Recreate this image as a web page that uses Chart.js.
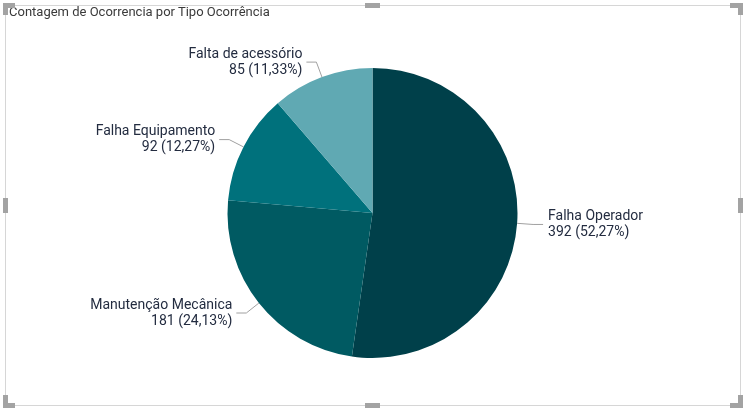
<!DOCTYPE html>
<html>
<head>
<meta charset="utf-8">
<script src="https://cdn.jsdelivr.net/npm/chart.js@4"></script>
<style>
  html, body { margin: 0; padding: 0; background: #fff; }
  #wrap { position: relative; width: 745px; height: 414px; overflow: hidden; }
  canvas { position: absolute; left: 0; top: 0; }
  .ln { position: absolute; background: #d6d6d6; }
  .hd { position: absolute; background: #a3a3a3; }
  #title { position: absolute; left: 9px; top: 4px; font: 13px Roboto, sans-serif; color: #3a3a3a; white-space: nowrap; }
</style>
</head>
<body>
<div id="wrap">
  <canvas id="c" width="745" height="414"></canvas>
  <div id="title">Contagem de Ocorrencia por Tipo Ocorrência</div>
  <!-- frame lines -->
  <div class="ln" style="left:5px;top:5px;width:735px;height:1px"></div>
  <div class="ln" style="left:5px;top:405px;width:735px;height:1px"></div>
  <div class="ln" style="left:5px;top:5px;width:1px;height:400px"></div>
  <div class="ln" style="left:740px;top:5px;width:1px;height:401px"></div>
  <!-- corner handles -->
  <div class="hd" style="left:3px;top:3px;width:12px;height:5px"></div>
  <div class="hd" style="left:3px;top:3px;width:5px;height:12px"></div>
  <div class="hd" style="left:730px;top:3px;width:13px;height:5px"></div>
  <div class="hd" style="left:738px;top:3px;width:5px;height:12px"></div>
  <div class="hd" style="left:3px;top:403px;width:12px;height:5px"></div>
  <div class="hd" style="left:3px;top:395px;width:5px;height:13px"></div>
  <div class="hd" style="left:730px;top:403px;width:13px;height:5px"></div>
  <div class="hd" style="left:738px;top:395px;width:5px;height:13px"></div>
  <!-- middle handles -->
  <div class="hd" style="left:365px;top:3px;width:15px;height:5px"></div>
  <div class="hd" style="left:365px;top:403px;width:15px;height:5px"></div>
  <div class="hd" style="left:3px;top:198px;width:5px;height:15px"></div>
  <div class="hd" style="left:738px;top:198px;width:5px;height:15px"></div>
</div>
<script>
const categories = ["Falha Operador", "Manutenção Mecânica", "Falha Equipamento", "Falta de acessório"];
const counts = [392, 181, 92, 85];
const percentLabels = ["52,27%", "24,13%", "12,27%", "11,33%"];
const colors = ["#00404a", "#005a62", "#00717c", "#60a9b3"];

const labelPlugin = {
  id: "outLabels",
  afterDatasetsDraw(chart) {
    const ctx = chart.ctx;
    const meta = chart.getDatasetMeta(0);
    ctx.save();
    ctx.font = "14px Roboto, sans-serif";
    ctx.strokeStyle = "#a0a0a0";
    ctx.lineWidth = 1;
    ctx.fillStyle = "#232c40";
    meta.data.forEach((arc, i) => {
      const a = (arc.startAngle + arc.endAngle) / 2;
      const r = arc.outerRadius;
      const cx = arc.x, cy = arc.y;
      const x0 = cx + Math.cos(a) * r, y0 = cy + Math.sin(a) * r;
      const x1 = cx + Math.cos(a) * (r + 16), y1 = cy + Math.sin(a) * (r + 16);
      const right = Math.cos(a) >= 0;
      const x2 = x1 + (right ? 10 : -10);
      ctx.beginPath();
      ctx.moveTo(x0, y0);
      ctx.lineTo(x1, y1);
      ctx.lineTo(x2, y1);
      ctx.stroke();
      const tx = x2 + (right ? 5 : -4);
      ctx.textAlign = right ? "left" : "right";
      ctx.textBaseline = "middle";
      ctx.fillText(categories[i], tx, y1 - 8);
      ctx.fillText(counts[i] + " (" + percentLabels[i] + ")", tx, y1 + 8);
    });
    ctx.restore();
  }
};

new Chart(document.getElementById("c"), {
  type: "pie",
  data: {
    labels: categories,
    datasets: [{ data: counts, backgroundColor: colors, borderWidth: 0 }]
  },
  options: {
    responsive: false,
    animation: false,
    layout: { padding: { top: 68, bottom: 56 } },
    plugins: { legend: { display: false }, tooltip: { enabled: false } }
  },
  plugins: [labelPlugin]
});
</script>
</body>
</html>
